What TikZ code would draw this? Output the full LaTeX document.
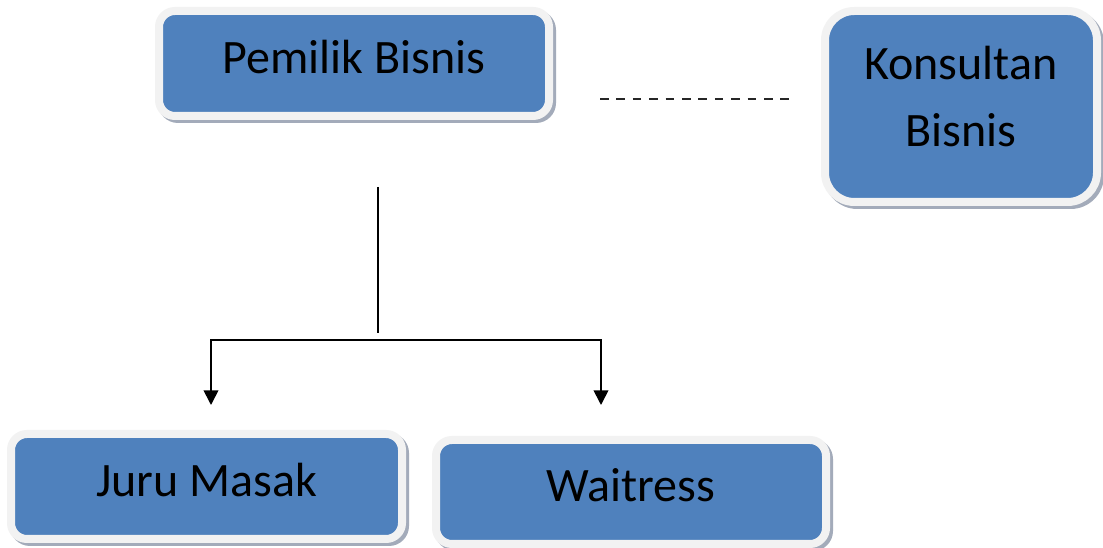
\documentclass[tikz,border=0pt]{standalone}
\usepackage{fontspec}
\setmainfont{Carlito}
\usetikzlibrary{arrows.meta,calc}
\definecolor{boxblue}{HTML}{4F81BD}
\definecolor{boxborder}{HTML}{F2F2F2}
\definecolor{shadowc}{HTML}{A3ABBA}
\pgfdeclarelayer{bgzero}
\pgfdeclarelayer{background}
\pgfsetlayers{bgzero,background,main}
\tikzset{
  box/.style={draw=boxborder, fill=boxblue, line width=6pt, rounded corners=12pt,
    inner sep=0pt, font=\fontsize{36}{50}\selectfont, text=black},
  onebox/.style={box, text height=23pt, text depth=8pt},
  link/.style={line width=1.3pt, draw=black},
  arrowlink/.style={link, -{Triangle[length=11pt,width=11pt]}},
  dashlink/.style={line width=1.3pt, draw=black!85, dash pattern=on 6.5pt off 5.8pt}
}
\begin{document}
\begin{tikzpicture}[x=0.75pt,y=-0.75pt]
\begin{pgfonlayer}{bgzero}
\fill[white] (0,0) rectangle (1103,548);
\end{pgfonlayer}
\useasboundingbox (0,0) rectangle (1103,548);

\node[onebox, minimum width=292.5pt, minimum height=78.75pt] (pem) at (354,63.5) {Pemilik Bisnis};
\node[box, rounded corners=22pt, align=center, text depth=15pt, minimum width=204pt, minimum height=143.25pt] (kon) at (961,106.5) {Konsultan\\Bisnis};
\node[onebox, minimum width=293.25pt, minimum height=78.75pt] (juru) at (206.5,486.5) {Juru Masak};
\node[onebox, minimum width=292.5pt, minimum height=78pt] (wait) at (631,492) {Waitress};

\begin{pgfonlayer}{background}
\foreach \n/\r in {pem/15pt, kon/25pt, juru/15pt, wait/15pt}{
  \fill[shadowc, rounded corners=\r] ([shift={(3,3)}]\n.south west) rectangle ([shift={(3,3)}]\n.north east);
}
\end{pgfonlayer}

\coordinate (dashstart) at (600,99);
\coordinate (dashend) at (793,99);
\draw[dashlink] (dashstart) -- (dashend);

\coordinate (vtop) at (378,187);
\coordinate (vbot) at (378,333);
\coordinate (hl) at (211,340);
\coordinate (hr) at (601,340);
\coordinate (juruin) at (211,405);
\coordinate (waitin) at (601,405);
\draw[link] (vtop) -- (vbot);
\draw[arrowlink] (hr) -- (hl) -- (juruin);
\draw[arrowlink] (hl) -- (hr) -- (waitin);
\end{tikzpicture}
\end{document}
